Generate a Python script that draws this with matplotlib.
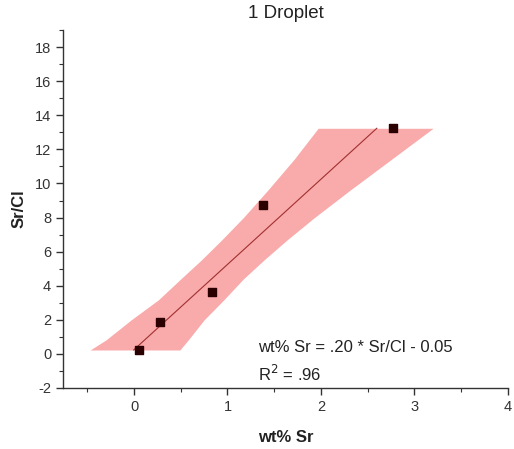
import numpy as np
import matplotlib
matplotlib.use("Agg")
import matplotlib.pyplot as plt

plt.rcParams['font.family'] = ['Liberation Sans', 'DejaVu Sans']
plt.rcParams['axes.unicode_minus'] = False

# measured points: Sr/Cl ratio vs wt% Sr
wt_sr = [0.057, 0.278, 0.83, 1.383, 2.773]
sr_cl = [0.23, 1.86, 3.65, 8.74, 13.24]

# fit: wt% Sr = slope * Sr/Cl + intercept
slope = 0.20
intercept = -0.05
r2 = 0.96

# 95% confidence band (wt% Sr bounds at given Sr/Cl)
band_y = [0.23, 0.82, 2.0, 3.17, 4.4, 5.51, 6.7, 8.0, 9.6, 11.4, 13.24]
band_lo = [-0.47, -0.30, -0.03, 0.26, 0.50, 0.72, 0.94, 1.17, 1.43, 1.71, 1.97]
band_hi = [0.49, 0.58, 0.75, 0.96, 1.17, 1.39, 1.64, 1.93, 2.31, 2.75, 3.20]

fig = plt.figure(figsize=(5.14, 4.49), dpi=100)
ax = fig.add_axes([0.1226, 0.1359, 0.8654, 0.797])

ax.fill_betweenx(band_y, band_lo, band_hi, color='#f9aaaa', lw=0, zorder=1)

fit_y = np.array([min(sr_cl), max(sr_cl)])
ax.plot(slope * fit_y + intercept, fit_y, color='#a03030', lw=0.8, zorder=2)

ax.scatter(wt_sr, sr_cl, marker='s', s=28, color='#2a0000', zorder=3)

ax.set_xlim(-0.76, 4)
ax.set_ylim(-2, 19)
ax.set_xticks([0, 1, 2, 3, 4])
ax.set_xticks(np.arange(-0.5, 4, 1.0), minor=True)
ax.set_yticks(np.arange(-2, 19, 2))
ax.set_yticks(np.arange(-1, 20, 2), minor=True)

for side in ['top', 'right']:
    ax.spines[side].set_visible(False)
for side in ['left', 'bottom']:
    ax.spines[side].set_color('#333333')
    ax.spines[side].set_linewidth(1.0)

ax.tick_params(which='major', direction='out', length=5, width=1.0,
               colors='#333333', labelsize=10.5)
ax.tick_params(which='minor', direction='out', length=3, width=0.8,
               colors='#333333')

ax.set_title('1 Droplet', fontsize=13.5, color='#222222', pad=9)
ax.set_xlabel('wt% Sr', fontsize=12, fontweight='bold', color='#222222', labelpad=12)
ax.set_ylabel('Sr/Cl', fontsize=12, fontweight='bold', color='#222222', labelpad=6)

ax.text(1.33, 0.35, 'wt% Sr = .20 * Sr/Cl - 0.05', fontsize=12,
        color='#222222', va='center', ha='left')
ax.text(1.33, -1.17, 'R$^2$ = .96', fontsize=12,
        color='#222222', va='center', ha='left')

fig.savefig('out.png', dpi=100)
